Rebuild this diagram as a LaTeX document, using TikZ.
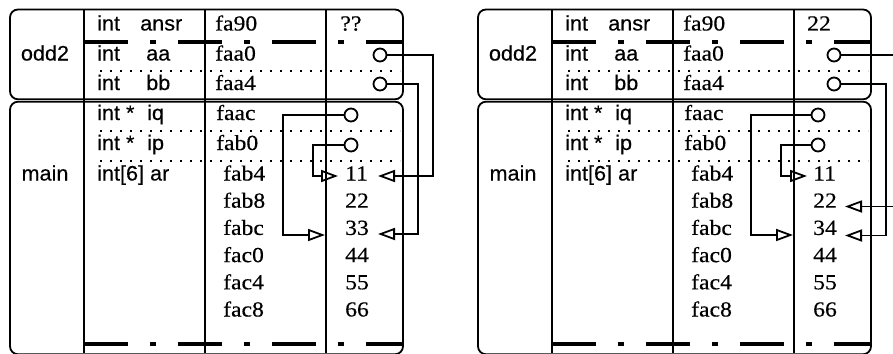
\documentclass[tikz,border=0pt]{standalone}
\usepackage{fontspec}
\setmainfont[FakeStretch=1.1,FakeBold=0.4]{Liberation Serif}
\newfontfamily\hv[FakeStretch=1.03,FakeBold=0.4]{Liberation Sans}
\usetikzlibrary{arrows.meta}
\tikzset{
  frame/.style={draw, rounded corners=8pt, line width=1.8pt, inner sep=0pt},
  colline/.style={line width=1.8pt},
  thickdash/.style={line width=4.5pt, dash pattern=on 44pt off 22pt on 6pt off 22pt},
  dotline/.style={line width=2pt, dash pattern=on 2pt off 8pt},
  sans/.style={font=\hv\fontsize{21}{24}\selectfont, anchor=base west, inner sep=0pt},
  serif/.style={font=\fontsize{21.5}{24}\selectfont, anchor=base west, inner sep=0pt},
  serifc/.style={font=\fontsize{21.5}{24}\selectfont, anchor=base, inner sep=0pt},
  sansc/.style={font=\hv\fontsize{21}{24}\selectfont, anchor=base, inner sep=0pt},
  ptrdot/.style={circle, draw, minimum size=13pt, inner sep=0pt, line width=1.8pt, fill=white},
  ptr/.style={line width=1.8pt, -{Triangle[open,length=17pt,width=12pt]}},
}
\newcommand{\memdiag}[4]{%
\begin{scope}[xshift=#1, name prefix=#2]
  \node[frame, minimum width=393pt, minimum height=89.8pt] (odd) at (206.5,54.4) {};
  \node[frame, minimum width=393pt, minimum height=252.6pt] (mainbox) at (206.5,228) {};
  \draw[colline] (84,9.5) -- (84,353);
  \draw[colline] (205,9.5) -- (205,353);
  \draw[colline] (326,9.5) -- (326,353);
  \draw[thickdash] (84,42) -- (403,42);
  \draw[thickdash] (84,344) -- (403,344);
  \draw[dotline] (100,70.5) -- (400,70.5);
  \draw[dotline] (100,130.5) -- (400,130.5);
  \draw[dotline] (100,161) -- (400,161);
  % frame labels
  \node[sansc] (lodd) at (45,60.5) {odd2};
  \node[sansc] (lmain) at (45,180.5) {main};
  % types and names
  \node[sans] (ty1) at (97,30.5) {int};
  \node[sans] (nm1) at (140,30.5) {ansr};
  \node[sans] (ty2) at (97,60.5) {int};
  \node[sans] (nm2) at (146,60.5) {aa};
  \node[sans] (ty3) at (97,90) {int};
  \node[sans] (nm3) at (146,90) {bb};
  \node[sans] (ty4) at (97,120) {int *};
  \node[sans] (nm4) at (147,120) {iq};
  \node[sans] (ty5) at (97,150) {int *};
  \node[sans] (nm5) at (147,150) {ip};
  \node[sans] (ty6) at (97,180.5) {int[6] ar};
  % addresses
  \node[serif] (ad1) at (215,30.5) {fa90};
  \node[serif] (ad2) at (215,60.5) {faa0};
  \node[serif] (ad3) at (215,90) {faa4};
  \node[serif] (ad4) at (216,120) {faac};
  \node[serif] (ad5) at (216,150) {fab0};
  \node[serif] (ad6) at (223,180.5) {fab4};
  \node[serif] (ad7) at (223,207.7) {fab8};
  \node[serif] (ad8) at (223,234.9) {fabc};
  \node[serif] (ad9) at (223,262.1) {fac0};
  \node[serif] (ad10) at (223,289.3) {fac4};
  \node[serif] (ad11) at (223,316.5) {fac8};
  % values
  \node[serifc] (v1) at (351,30.5) {#3};
  \node[serif] (v6) at (345,180.5) {11};
  \node[serif] (v7) at (345,207.7) {22};
  \node[serif] (v8) at (345,234.9) {#4};
  \node[serif] (v9) at (345,262.1) {44};
  \node[serif] (v10) at (345,289.3) {55};
  \node[serif] (v11) at (345,316.5) {66};
\end{scope}}
\begin{document}
\begin{tikzpicture}[x=1pt,y=-1pt]
\useasboundingbox (0,0) rectangle (893,353);
\memdiag{0pt}{L-}{??}{33}
\memdiag{468pt}{R-}{22}{34}
% ---- left pointers
\node[ptrdot] (Lcaa) at (380,55) {};
\node[ptrdot] (Lcbb) at (380,84) {};
\node[ptrdot] (Lciq) at (351,115) {};
\node[ptrdot] (Lcip) at (351,145) {};
\coordinate (Ltaa) at (378,176);
\coordinate (Ltbb) at (378,234);
\coordinate (Ltiq) at (325,235);
\coordinate (Ltip) at (338,176);
\draw[ptr] (Lcaa) -- (433,55) |- (Ltaa);
\draw[ptr] (Lcbb) -- (418,84) |- (Ltbb);
\draw[ptr] (Lciq) -- (283,115) |- (Ltiq);
\draw[ptr] (Lcip) -- (313,145) |- (Ltip);
% ---- right pointers
\node[ptrdot] (Rcaa) at (834,55) {};
\node[ptrdot] (Rcbb) at (834,84) {};
\node[ptrdot] (Rciq) at (818,115) {};
\node[ptrdot] (Rcip) at (818,145) {};
\coordinate (Rtaa) at (845,206.5);
\coordinate (Rtbb) at (845,235.5);
\coordinate (Rtiq) at (793,235);
\coordinate (Rtip) at (807,176);
\draw[ptr] (Rcaa) -- (905,55) |- (Rtaa);
\draw[ptr] (Rcbb) -- (886,84) |- (Rtbb);
\draw[ptr] (Rciq) -- (751,115) |- (Rtiq);
\draw[ptr] (Rcip) -- (781,145) |- (Rtip);
\end{tikzpicture}
\end{document}
